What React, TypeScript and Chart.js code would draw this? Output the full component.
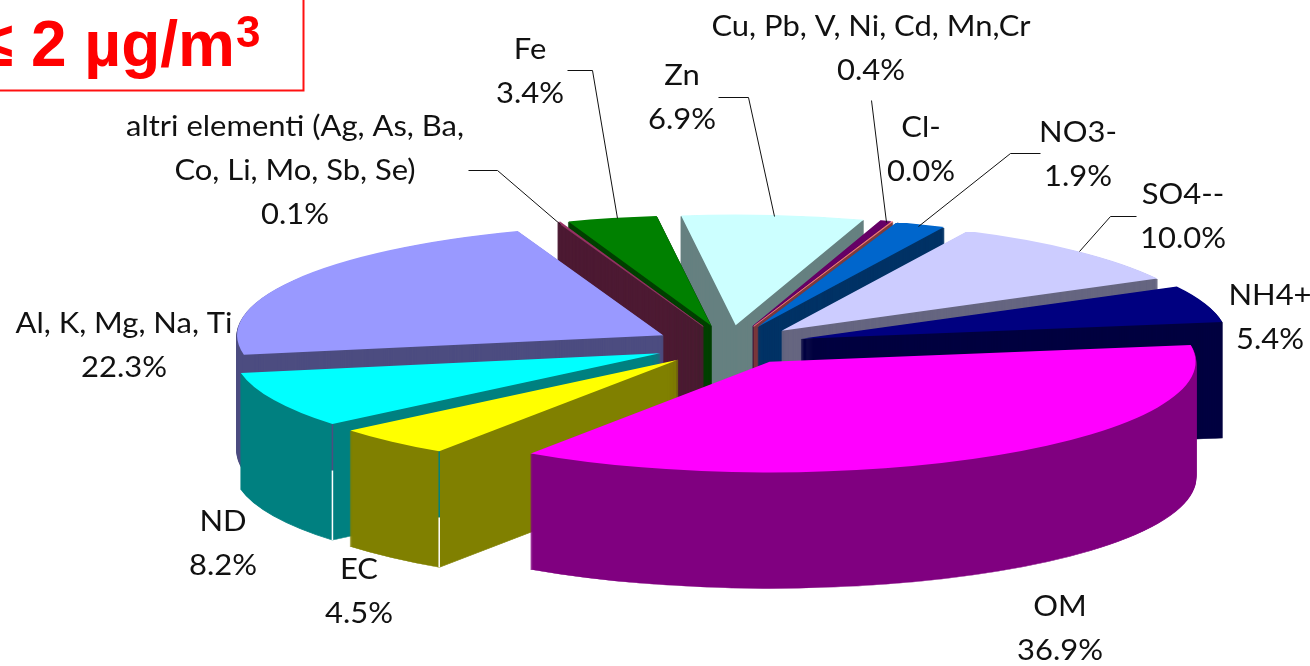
import React, { useEffect, useRef } from "react";
import { Chart, registerables } from "chart.js";

Chart.register(...registerables);

// Mass closure of the PM fraction, in percent, clockwise from OM.
const categories = [
  "OM", "EC", "ND", "Al, K, Mg, Na, Ti",
  "altri elementi (Ag, As, Ba,|Co, Li, Mo, Sb, Se)",
  "Fe", "Zn", "Cu, Pb, V, Ni, Cd, Mn,Cr", "Cl-", "NO3-", "SO4--", "NH4+",
];
const shares = [36.9, 4.5, 8.2, 22.3, 0.1, 3.4, 6.9, 0.4, 0.04, 1.9, 10.0, 5.4];
const topColors = [
  "#FF00FF", "#FFFF00", "#00FFFF", "#9999FF", "#993366", "#008000",
  "#CCFFFF", "#660066", "#FF8080", "#0066CC", "#CCCCFF", "#000080",
];
const wallColors = [
  "#800080", "#808000", "#008080", "#4D4D80", "#4D1A33", "#004000",
  "#668080", "#330033", "#803C3C", "#003366", "#666680", "#000040",
];

// Label placement: centre x, then the middle y of the first text line.
const labelCentreX = [1060, 359, 223, 124, 295, 530, 682, 871, 921, 1078, 1183, 1270];
const labelTopY = [607, 570, 522, 324, 127, 50, 76, 27, 128, 133, 195, 296];
const LINE_GAP = 44;
const TEXT_STRETCH = 1.105;

// Leader lines, keyed by category position.
const leaders: Record<number, number[][]> = {
  4: [[468, 170], [497, 170], [560, 224]],
  5: [[567, 70], [592, 70], [617, 218]],
  6: [[718, 97], [748, 97], [774, 216]],
  7: [[871, 100], [886, 222]],
  9: [[1040, 153], [1010, 153], [918, 226]],
  10: [[1136, 216], [1110, 216], [1079, 251]],
};

// Corner seams on the outer wall: slice position, upper colour, share of the depth it covers.
const seams: [number, string, number][] = [
  [1, "#008080", 0.57],
  [2, "#4D4D80", 0.4],
];

// Projection of the tilted pie.
const TILT = 0.26;
const DEPTH = 116;
const EXPLODE = 76;
const RADIUS = 426;

const pie3d = {
  id: "pie3d",
  beforeDatasetsDraw(chart: any) {
    const { ctx } = chart;
    const arcs = chart.getDatasetMeta(0).data;
    const mid = (a: any) => (a.startAngle + a.endAngle) / 2;
    const order = arcs
      .map((a: any, i: number) => i)
      .sort((p: number, q: number) => Math.sin(mid(arcs[p])) - Math.sin(mid(arcs[q])));

    const paint = (arc: any, colour: string, drop: number, edge: number) => {
      const base = arc.options;
      arc.options = Object.create(base, {
        backgroundColor: { value: colour },
        borderColor: { value: colour },
        borderWidth: { value: edge },
        offset: { value: 0 },
      });
      const a = mid(arc);
      ctx.save();
      ctx.translate(arc.x + Math.cos(a) * EXPLODE, arc.y + Math.sin(a) * EXPLODE * TILT + drop);
      ctx.scale(1, TILT);
      ctx.translate(-arc.x, -arc.y);
      arc.draw(ctx);
      ctx.restore();
      arc.options = base;
    };

    for (const i of order) {
      const arc = arcs[i];
      // Stacked copies build the wall; the thin outline keeps narrow slices solid.
      for (let d = DEPTH; d > 0; d--) paint(arc, wallColors[i], d, 1.5);
      paint(arc, topColors[i], 0, shares[i] < 1 ? 1 : 0);

      const seam = seams.find((s) => s[0] === i);
      if (seam) {
        const a = mid(arc);
        const x = arc.x + Math.cos(a) * EXPLODE + Math.cos(arc.startAngle) * arc.outerRadius;
        const y = arc.y + (Math.sin(a) * EXPLODE + Math.sin(arc.startAngle) * arc.outerRadius) * TILT;
        const split = DEPTH * seam[2];
        ctx.fillStyle = seam[1];
        ctx.fillRect(x - 0.75, y, 1.5, split);
        ctx.fillStyle = "#FFFFFF";
        ctx.fillRect(x - 0.75, y + split, 1.5, DEPTH - split);
      }
    }
    return false;
  },
  afterDraw(chart: any) {
    const { ctx } = chart;
    ctx.save();

    // Leader lines
    ctx.strokeStyle = "#111111";
    ctx.lineWidth = 1;
    for (const key of Object.keys(leaders)) {
      const pts = leaders[Number(key)];
      ctx.beginPath();
      pts.forEach(([x, y], n) => (n ? ctx.lineTo(x + 0.5, y + 0.5) : ctx.moveTo(x + 0.5, y + 0.5)));
      ctx.stroke();
    }

    // Category and percentage labels
    ctx.fillStyle = "#111111";
    ctx.font = "28px Lato";
    ctx.textAlign = "center";
    ctx.textBaseline = "middle";
    categories.forEach((name, i) => {
      const lines = [...name.split("|"), `${shares[i].toFixed(1)}%`];
      lines.forEach((t, n) => {
        ctx.save();
        ctx.translate(labelCentreX[i], labelTopY[i] + n * LINE_GAP);
        ctx.scale(TEXT_STRETCH, 1);
        ctx.fillText(t, 0, 0);
        ctx.restore();
      });
    });

    // Limit box, running off the top left corner
    ctx.strokeStyle = "#FF1010";
    ctx.lineWidth = 2;
    ctx.strokeRect(-10, -10, 313.5, 100.5);
    ctx.fillStyle = "#FF0000";
    ctx.textAlign = "left";
    ctx.textBaseline = "alphabetic";
    ctx.font = 'bold 64px "Liberation Sans"';
    ctx.fillText("\u2264 2 \u00B5g/m", -22, 66);
    ctx.font = 'bold 44px "Liberation Sans"';
    ctx.fillText("3", 236, 47);
    ctx.restore();
  },
};

export default function App() {
  const ref = useRef<HTMLCanvasElement>(null);
  useEffect(() => {
    const chart = new Chart(ref.current!, {
      type: "pie",
      data: {
        labels: categories,
        datasets: [{ data: shares, backgroundColor: topColors, borderWidth: 0 }],
      },
      options: {
        animation: false,
        responsive: false,
        rotation: 81.3,
        radius: RADIUS,
        layout: { padding: { left: 148, top: 24 } },
        plugins: { legend: { display: false }, tooltip: { enabled: false } },
      },
      plugins: [pie3d],
    } as any);
    return () => chart.destroy();
  }, []);
  return (
    <canvas
      ref={ref}
      width={1310}
      height={666}
      style={{ position: "fixed", left: 0, top: 0, width: 1310, height: 666, background: "#fff" }}
    />
  );
}
